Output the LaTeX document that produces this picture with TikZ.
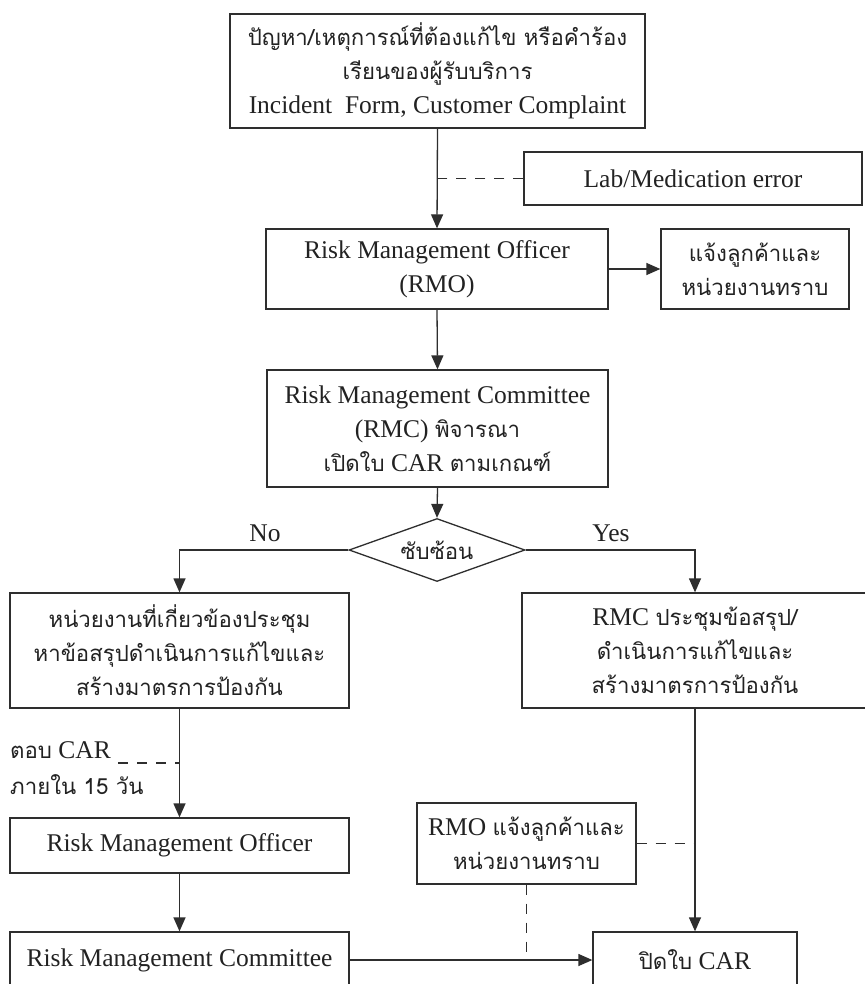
\documentclass[tikz,border=0pt]{standalone}
\usepackage{fontspec}
\setmainfont{Liberation Serif}
\newfontfamily\thai[Script=Thai,Scale=0.87]{Loma}
\newcommand\tht[1]{{\thai #1}}
\usetikzlibrary{arrows.meta,shapes.geometric}
\definecolor{linec}{HTML}{2E2E2E}
\definecolor{txtc}{HTML}{222222}
\begin{document}
\begin{tikzpicture}[x=1pt,y=-1pt,
 line/.style={draw=linec, line width=1.3pt},
 box/.style={draw=linec, line width=1.3pt, inner sep=0pt, align=center, text=txtc, font=\fontsize{25.5}{34}\selectfont},
 arr/.style={line, -{Triangle[length=14pt,width=12pt]}},
 dsh/.style={line, dash pattern=on 10pt off 9pt},
 lbl/.style={text=txtc, font=\fontsize{25.5}{34}\selectfont, inner sep=0pt}]
\useasboundingbox[fill=white] (0,0) rectangle (864,984);

\node[box, minimum width=415pt, minimum height=114pt] (top) at (437.5,71)
 {\tht{ปัญหา/เหตุการณ์ที่ต้องแก้ไข หรือคำร้อง}\\ \tht{เรียนของผู้รับบริการ}\\ Incident\ \ Form, Customer Complaint};
\node[box, minimum width=338pt, minimum height=53pt] (lab) at (693,178.5) {Lab/Medication error};
\node[box, minimum width=342pt, minimum height=80pt] (rmo) at (437,269) {Risk Management Officer\\ (RMO)};
\node[box, minimum width=188pt, minimum height=80pt] (notify) at (755,269) {\tht{แจ้งลูกค้าและ}\\ \tht{หน่วยงานทราบ}};
\node[box, minimum width=341pt, minimum height=117pt] (rmc) at (437.5,428.5)
 {Risk Management Committee\\ (RMC) \tht{พิจารณา}\\ \tht{เปิดใบ} CAR \tht{ตามเกณฑ์}};
\node[box, diamond, aspect=2.8, minimum width=176pt, minimum height=63pt] (dia) at (437,550) {\tht{ซับซ้อน}};
\node[lbl] (no) at (265,533) {No};
\node[lbl] (yes) at (611,533) {Yes};
\node[box, minimum width=339pt, minimum height=115pt] (left) at (179.5,650.5)
 {\tht{หน่วยงานที่เกี่ยวข้องประชุม}\\ \tht{หาข้อสรุปดำเนินการแก้ไขและ}\\ \tht{สร้างมาตรการป้องกัน}};
\node[box, minimum width=346pt, minimum height=115pt] (right) at (695,650.5)
 {RMC \tht{ประชุมข้อสรุป/}\\ \tht{ดำเนินการแก้ไขและ}\\ \tht{สร้างมาตรการป้องกัน}};
\node[lbl, anchor=west] (tcar) at (10,750) {\tht{ตอบ} CAR};
\node[lbl, anchor=west] (t15) at (10,785) {\tht{ภายใน 15 วัน}};
\node[box, minimum width=339pt, minimum height=55pt] (rmo2) at (179.5,845.5) {Risk Management Officer};
\node[box, minimum width=339pt, minimum height=56pt] (rmc2) at (179.5,960) {Risk Management Committee};
\node[box, minimum width=219pt, minimum height=81pt] (notify2) at (526.5,843.5) {RMO \tht{แจ้งลูกค้าและ}\\ \tht{หน่วยงานทราบ}};
\node[box, minimum width=204pt, minimum height=56pt] (close) at (695,960) {\tht{ปิดใบ} CAR};

\draw[arr] (top.south) -- (rmo.north);
\draw[dsh] (lab.west) -- (lab.west -| top.south);
\draw[arr] (rmo.east) -- (notify.west);
\draw[arr] (rmo.south) -- (rmc.north);
\draw[arr] (rmc.south) -- (dia.north);
\draw[arr] (dia.west) -| (left.north);
\draw[arr] (dia.east) -| (right.north);
\draw[arr] (left.south) -- (rmo2.north);
\coordinate (dstart) at (118,763);
\draw[dsh] (dstart) -- (dstart -| left.south);
\draw[arr] (rmo2.south) -- (rmc2.north);
\draw[arr] (rmc2.east) -- (close.west);
\draw[arr] (right.south) -- (close.north);
\draw[dsh] (notify2.east) -- (notify2.east -| right.south);
\draw[dsh] (notify2.south) -- (notify2.south |- close.west);
\end{tikzpicture}
\end{document}
